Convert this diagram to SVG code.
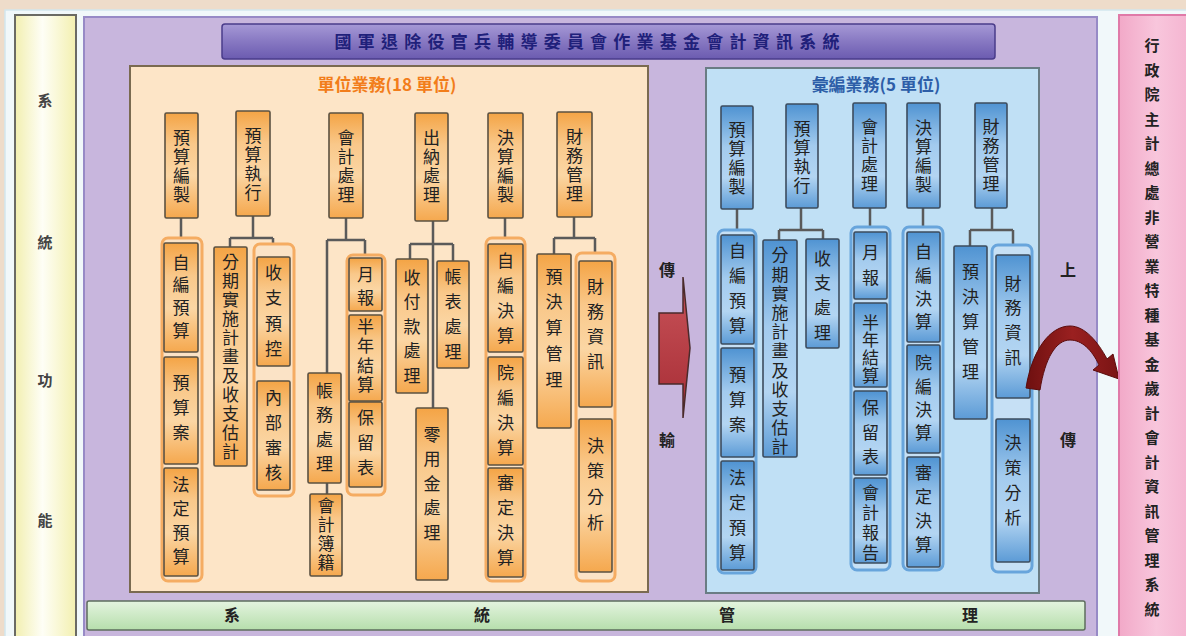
<svg xmlns="http://www.w3.org/2000/svg" width="1186" height="636" viewBox="0 0 1186 636">
<defs>
<linearGradient id="og" x1="0" y1="0" x2="0" y2="1">
<stop offset="0" stop-color="#f4a445"/><stop offset="0.3" stop-color="#f9c88a"/><stop offset="0.6" stop-color="#fbd6a4"/><stop offset="1" stop-color="#f5a84e"/>
</linearGradient>
<linearGradient id="bg" x1="0" y1="0" x2="0" y2="1">
<stop offset="0" stop-color="#4f93d2"/><stop offset="0.4" stop-color="#a3cbee"/><stop offset="0.7" stop-color="#b3d5f2"/><stop offset="1" stop-color="#5c9bd6"/>
</linearGradient>
<linearGradient id="tg" x1="0" y1="0" x2="0" y2="1">
<stop offset="0" stop-color="#a699d6"/><stop offset="0.5" stop-color="#8778c2"/><stop offset="1" stop-color="#6b5bb0"/>
</linearGradient>
<linearGradient id="yg" x1="0" y1="0" x2="1" y2="0">
<stop offset="0" stop-color="#f2efb0"/><stop offset="0.45" stop-color="#fefef6"/><stop offset="1" stop-color="#f3f0b0"/>
</linearGradient>
<linearGradient id="gg" x1="0" y1="0" x2="0" y2="1">
<stop offset="0" stop-color="#e4f4df"/><stop offset="1" stop-color="#b6deac"/>
</linearGradient>
<linearGradient id="pg" x1="0" y1="0" x2="1" y2="0">
<stop offset="0" stop-color="#f2a9c8"/><stop offset="0.5" stop-color="#f8c6dc"/><stop offset="1" stop-color="#f4b2cf"/>
</linearGradient>
<linearGradient id="rg" x1="0" y1="0" x2="0" y2="1">
<stop offset="0" stop-color="#c9545a"/><stop offset="1" stop-color="#a62c34"/>
</linearGradient>
<linearGradient id="dg" x1="0" y1="0" x2="1" y2="0">
<stop offset="0" stop-color="#6e1010"/><stop offset="0.5" stop-color="#9a2020"/><stop offset="1" stop-color="#7a1414"/>
</linearGradient>
</defs>
<style>
.ob{fill:url(#og);stroke:#5b5141;stroke-width:1.6}
.bb{fill:url(#bg);stroke:#3c4c5e;stroke-width:1.6}
.ogp{fill:#fbe3c6;stroke:#f5ac62;stroke-width:3}
.bgp{fill:#c6e0f5;stroke:#68a5dc;stroke-width:3}
.v{font-family:"Noto Sans CJK TC","Noto Sans CJK SC",sans-serif;font-size:17px;fill:#222;writing-mode:vertical-rl;text-anchor:middle}
.h{font-family:"Noto Sans CJK TC","Noto Sans CJK SC",sans-serif;font-weight:bold;text-anchor:middle}
.c{fill:none;stroke:#5a5a5a;stroke-width:2.5}
</style>
<rect x="0" y="0" width="1186" height="636" fill="#eedcca"/>
<rect x="5" y="10" width="1186" height="636" fill="#f1f8fa" stroke="#d2e6ee" stroke-width="1.5"/>

<g id="side-left">
<rect x="15" y="15" width="61" height="630" fill="url(#yg)" stroke="#6a6a64" stroke-width="2"/>
<text class="h" x="45" y="106" font-size="15" fill="#444">系</text>
<text class="h" x="45" y="248" font-size="15" fill="#444">統</text>
<text class="h" x="45" y="386" font-size="15" fill="#444">功</text>
<text class="h" x="45" y="526" font-size="15" fill="#444">能</text>
</g>

<g id="main-panel">
<rect x="84" y="17" width="1013" height="630" fill="#c8b6dd" stroke="#978ac6" stroke-width="2"/>
</g>

<g id="title">
<rect x="222" y="24" width="773" height="35" rx="3" fill="url(#tg)" stroke="#4a3c8a" stroke-width="1.5"/>
<text class="h" x="587" y="48" font-size="17" fill="#20207a" textLength="505" lengthAdjust="spacing">國軍退除役官兵輔導委員會作業基金會計資訊系統</text>
</g>

<g id="unit-panel">
<rect x="130" y="66" width="518" height="526" fill="#fde5c7" stroke="#7a6a50" stroke-width="2"/>
<text class="h" x="387" y="91" font-size="17" fill="#f27d1a">單位業務(18 單位)</text>
</g>

<g id="compile-panel">
<rect x="706" y="68" width="333" height="525" fill="#c0e0f5" stroke="#6a7c84" stroke-width="2"/>
<text class="h" x="876" y="91" font-size="17" fill="#2d5ea8">彙編業務(5 單位)</text>
</g>

<g id="connectors">
<path class="c" d="M181,218V238M253,216V238M230,238H273M230,238V247M273,238V244"/>
<path class="c" d="M346,218V240M327,240H365M327,240V373M365,240V255M327,483V494"/>
<path class="c" d="M433,221V408M410,244H453M410,244V259M453,244V261"/>
<path class="c" d="M505,218V238M574,217V238M554,238H595M554,238V254M595,238V253"/>
<path class="c" d="M737,209V230M801,208V230M779,230H823M779,230V240M823,230V239"/>
<path class="c" d="M870,208V227M923,208V227M992,208V230M970,230H1013M970,230V246M1013,230V245"/>
</g>

<g id="groups">
<rect class="ogp" x="162" y="238" width="40" height="343" rx="6"/>
<rect class="ogp" x="254" y="244" width="40" height="252" rx="6"/>
<rect class="ogp" x="347" y="255" width="38" height="240" rx="6"/>
<rect class="ogp" x="486" y="238" width="39" height="343" rx="6"/>
<rect class="ogp" x="576" y="253" width="39" height="328" rx="6"/>
<rect class="bgp" x="718" y="230" width="38" height="343" rx="6"/>
<rect class="bgp" x="851" y="227" width="39" height="343" rx="6"/>
<rect class="bgp" x="903" y="227" width="40" height="343" rx="6"/>
<rect class="bgp" x="992" y="245" width="40" height="327" rx="6"/>
</g>

<g id="u-budget-prep"><rect class="ob" x="165" y="113" width="33" height="105" rx="1.5"/><text class="v" x="181.5" y="167" style="letter-spacing:2px">預算編製</text></g>
<g id="u-budget-exec"><rect class="ob" x="236" y="111" width="34" height="105" rx="1.5"/><text class="v" x="253" y="165" style="letter-spacing:2px">預算執行</text></g>
<g id="u-accounting"><rect class="ob" x="329" y="113" width="34" height="105" rx="1.5"/><text class="v" x="346" y="167" style="letter-spacing:2px">會計處理</text></g>
<g id="u-cashier"><rect class="ob" x="415" y="113" width="33" height="108" rx="1.5"/><text class="v" x="431.5" y="167" style="letter-spacing:2px">出納處理</text></g>
<g id="u-final-prep"><rect class="ob" x="488" y="113" width="35" height="105" rx="1.5"/><text class="v" x="505.5" y="167" style="letter-spacing:2px">決算編製</text></g>
<g id="u-finance"><rect class="ob" x="557" y="112" width="35" height="105" rx="1.5"/><text class="v" x="574.5" y="166" style="letter-spacing:2px">財務管理</text></g>

<g id="u-self-budget"><rect class="ob" x="164" y="243" width="34" height="109" rx="1.5"/><text class="v" x="181" y="299" style="letter-spacing:5.7px">自編預算</text></g>
<g id="u-budget-case"><rect class="ob" x="164" y="357" width="34" height="107" rx="1.5"/><text class="v" x="181" y="412" style="letter-spacing:8px">預算案</text></g>
<g id="u-legal-budget"><rect class="ob" x="164" y="468" width="34" height="108" rx="1.5"/><text class="v" x="181" y="524.5" style="letter-spacing:7px">法定預算</text></g>
<g id="u-plan"><rect class="ob" x="214" y="247" width="33" height="219" rx="1.5"/><text class="v" x="230.5" y="358" style="letter-spacing:2px">分期實施計畫及收支估計</text></g>
<g id="u-control"><rect class="ob" x="257" y="257" width="33" height="109" rx="1.5"/><text class="v" x="273.5" y="315" style="letter-spacing:8.5px">收支預控</text></g>
<g id="u-audit"><rect class="ob" x="257" y="381" width="33" height="109" rx="1.5"/><text class="v" x="273.5" y="439" style="letter-spacing:8px">內部審核</text></g>
<g id="u-ledger"><rect class="ob" x="308" y="373" width="33" height="110" rx="1.5"/><text class="v" x="324.5" y="431" style="letter-spacing:7.5px">帳務處理</text></g>
<g id="u-books"><rect class="ob" x="310" y="494" width="32" height="82" rx="1.5"/><text class="v" x="326" y="535" style="letter-spacing:2px">會計簿籍</text></g>
<g id="u-monthly"><rect class="ob" x="349" y="258" width="33" height="53" rx="1.5"/><text class="v" x="365.5" y="289" style="letter-spacing:6px">月報</text></g>
<g id="u-half"><rect class="ob" x="349" y="315" width="33" height="86" rx="1.5"/><text class="v" x="365.5" y="357" style="letter-spacing:2.5px">半年結算</text></g>
<g id="u-reserve"><rect class="ob" x="349" y="402" width="33" height="85" rx="1.5"/><text class="v" x="365.5" y="447" style="letter-spacing:8px">保留表</text></g>
<g id="u-payment"><rect class="ob" x="396" y="259" width="32" height="134" rx="1.5"/><text class="v" x="412" y="330" style="letter-spacing:7.5px">收付款處理</text></g>
<g id="u-statement"><rect class="ob" x="437" y="261" width="32" height="107" rx="1.5"/><text class="v" x="453" y="318" style="letter-spacing:8px">帳表處理</text></g>
<g id="u-petty"><rect class="ob" x="416" y="408" width="32" height="172" rx="1.5"/><text class="v" x="432" y="487" style="letter-spacing:7.5px">零用金處理</text></g>
<g id="u-self-final"><rect class="ob" x="488" y="244" width="35" height="108" rx="1.5"/><text class="v" x="505.5" y="302" style="letter-spacing:8px">自編決算</text></g>
<g id="u-yuan-final"><rect class="ob" x="488" y="357" width="35" height="108" rx="1.5"/><text class="v" x="505.5" y="414" style="letter-spacing:8px">院編決算</text></g>
<g id="u-approved-final"><rect class="ob" x="488" y="468" width="35" height="109" rx="1.5"/><text class="v" x="505.5" y="524" style="letter-spacing:8px">審定決算</text></g>
<g id="u-bf-mgmt"><rect class="ob" x="537" y="254" width="34" height="174" rx="1.5"/><text class="v" x="554" y="332" style="letter-spacing:8.7px">預決算管理</text></g>
<g id="u-fin-info"><rect class="ob" x="579" y="261" width="33" height="146" rx="1.5"/><text class="v" x="595.5" y="328" style="letter-spacing:8px">財務資訊</text></g>
<g id="u-decision"><rect class="ob" x="579" y="419" width="33" height="153" rx="1.5"/><text class="v" x="595.5" y="488" style="letter-spacing:8.7px">決策分析</text></g>

<g id="c-budget-prep"><rect class="bb" x="721" y="106" width="32" height="103" rx="1.5"/><text class="v" x="737" y="159" style="letter-spacing:2px">預算編製</text></g>
<g id="c-budget-exec"><rect class="bb" x="786" y="104" width="32" height="104" rx="1.5"/><text class="v" x="802" y="158" style="letter-spacing:2px">預算執行</text></g>
<g id="c-accounting"><rect class="bb" x="853" y="103" width="33" height="105" rx="1.5"/><text class="v" x="869.5" y="156" style="letter-spacing:2px">會計處理</text></g>
<g id="c-final-prep"><rect class="bb" x="907" y="103" width="33" height="105" rx="1.5"/><text class="v" x="923.5" y="157" style="letter-spacing:2px">決算編製</text></g>
<g id="c-finance"><rect class="bb" x="975" y="103" width="32" height="105" rx="1.5"/><text class="v" x="991" y="156" style="letter-spacing:2px">財務管理</text></g>

<g id="c-self-budget"><rect class="bb" x="721" y="235" width="33" height="109" rx="1.5"/><text class="v" x="737.5" y="292" style="letter-spacing:8px">自編預算</text></g>
<g id="c-budget-case"><rect class="bb" x="721" y="348" width="33" height="109" rx="1.5"/><text class="v" x="737.5" y="404" style="letter-spacing:8px">預算案</text></g>
<g id="c-legal-budget"><rect class="bb" x="721" y="461" width="33" height="109" rx="1.5"/><text class="v" x="737.5" y="519" style="letter-spacing:8px">法定預算</text></g>
<g id="c-plan"><rect class="bb" x="763" y="240" width="34" height="217" rx="1.5"/><text class="v" x="780" y="352" style="letter-spacing:2.2px">分期實施計畫及收支估計</text></g>
<g id="c-inout"><rect class="bb" x="806" y="239" width="33" height="109" rx="1.5"/><text class="v" x="822.5" y="299" style="letter-spacing:7.7px">收支處理</text></g>
<g id="c-monthly"><rect class="bb" x="854" y="232" width="33" height="67" rx="1.5"/><text class="v" x="870.5" y="269.5" style="letter-spacing:8px">月報</text></g>
<g id="c-half"><rect class="bb" x="854" y="303" width="33" height="84" rx="1.5"/><text class="v" x="870.5" y="349" style="letter-spacing:0.7px">半年結算</text></g>
<g id="c-reserve"><rect class="bb" x="854" y="391" width="33" height="84" rx="1.5"/><text class="v" x="870.5" y="436" style="letter-spacing:7.5px">保留表</text></g>
<g id="c-report"><rect class="bb" x="854" y="478" width="33" height="85" rx="1.5"/><text class="v" x="870.5" y="524.5" style="letter-spacing:3px">會計報告</text></g>
<g id="c-self-final"><rect class="bb" x="907" y="232" width="33" height="110" rx="1.5"/><text class="v" x="923.5" y="290" style="letter-spacing:6.3px">自編決算</text></g>
<g id="c-yuan-final"><rect class="bb" x="907" y="345" width="33" height="108" rx="1.5"/><text class="v" x="923.5" y="401" style="letter-spacing:6.3px">院編決算</text></g>
<g id="c-approved-final"><rect class="bb" x="907" y="457" width="33" height="110" rx="1.5"/><text class="v" x="923.5" y="512.5" style="letter-spacing:7px">審定決算</text></g>
<g id="c-bf-mgmt"><rect class="bb" x="954" y="246" width="33" height="173" rx="1.5"/><text class="v" x="970.5" y="326" style="letter-spacing:8px">預決算管理</text></g>
<g id="c-fin-info"><rect class="bb" x="996" y="255" width="34" height="143" rx="1.5"/><text class="v" x="1013" y="324" style="letter-spacing:7.7px">財務資訊</text></g>
<g id="c-decision"><rect class="bb" x="996" y="419" width="34" height="143" rx="1.5"/><text class="v" x="1013" y="484" style="letter-spacing:8px">決策分析</text></g>

<g id="transmit">
<path d="M659,313H683V277L690,348L683,418V384H659Z" fill="url(#rg)" stroke="#4a2a2a" stroke-width="1.5"/>
<text class="h" x="667" y="276" font-size="16" fill="#222">傳</text>
<text class="h" x="667" y="446" font-size="16" fill="#222">輸</text>
</g>

<g id="upload">
<path d="M1026,388C1032,350 1050,326 1070,326C1085,326 1098,342 1107,359L1113,354L1119,379L1093,370L1099,365C1092,350 1082,340 1070,340C1056,340 1045,358 1040,390Z" fill="url(#dg)" stroke="#5a0c0c" stroke-width="1"/>
<text class="h" x="1068" y="276" font-size="16" fill="#222">上</text>
<text class="h" x="1068" y="446" font-size="16" fill="#222">傳</text>
</g>

<g id="sys-mgmt">
<rect x="87" y="601" width="998" height="29" rx="2" fill="url(#gg)" stroke="#5e6e5e" stroke-width="1.5"/>
<text class="h" x="232" y="621" font-size="16" fill="#222">系</text>
<text class="h" x="482" y="621" font-size="16" fill="#222">統</text>
<text class="h" x="727" y="621" font-size="16" fill="#222">管</text>
<text class="h" x="970" y="621" font-size="16" fill="#222">理</text>
</g>

<g id="dgbas-system">
<rect x="1119" y="15" width="75" height="630" fill="url(#pg)" stroke="#e07aa8" stroke-width="2"/>
<text class="v" x="1152" y="332" style="font-weight:bold;font-size:15px;letter-spacing:9.5px">行政院主計總處非營業特種基金歲計會計資訊管理系統</text>
</g>
</svg>
